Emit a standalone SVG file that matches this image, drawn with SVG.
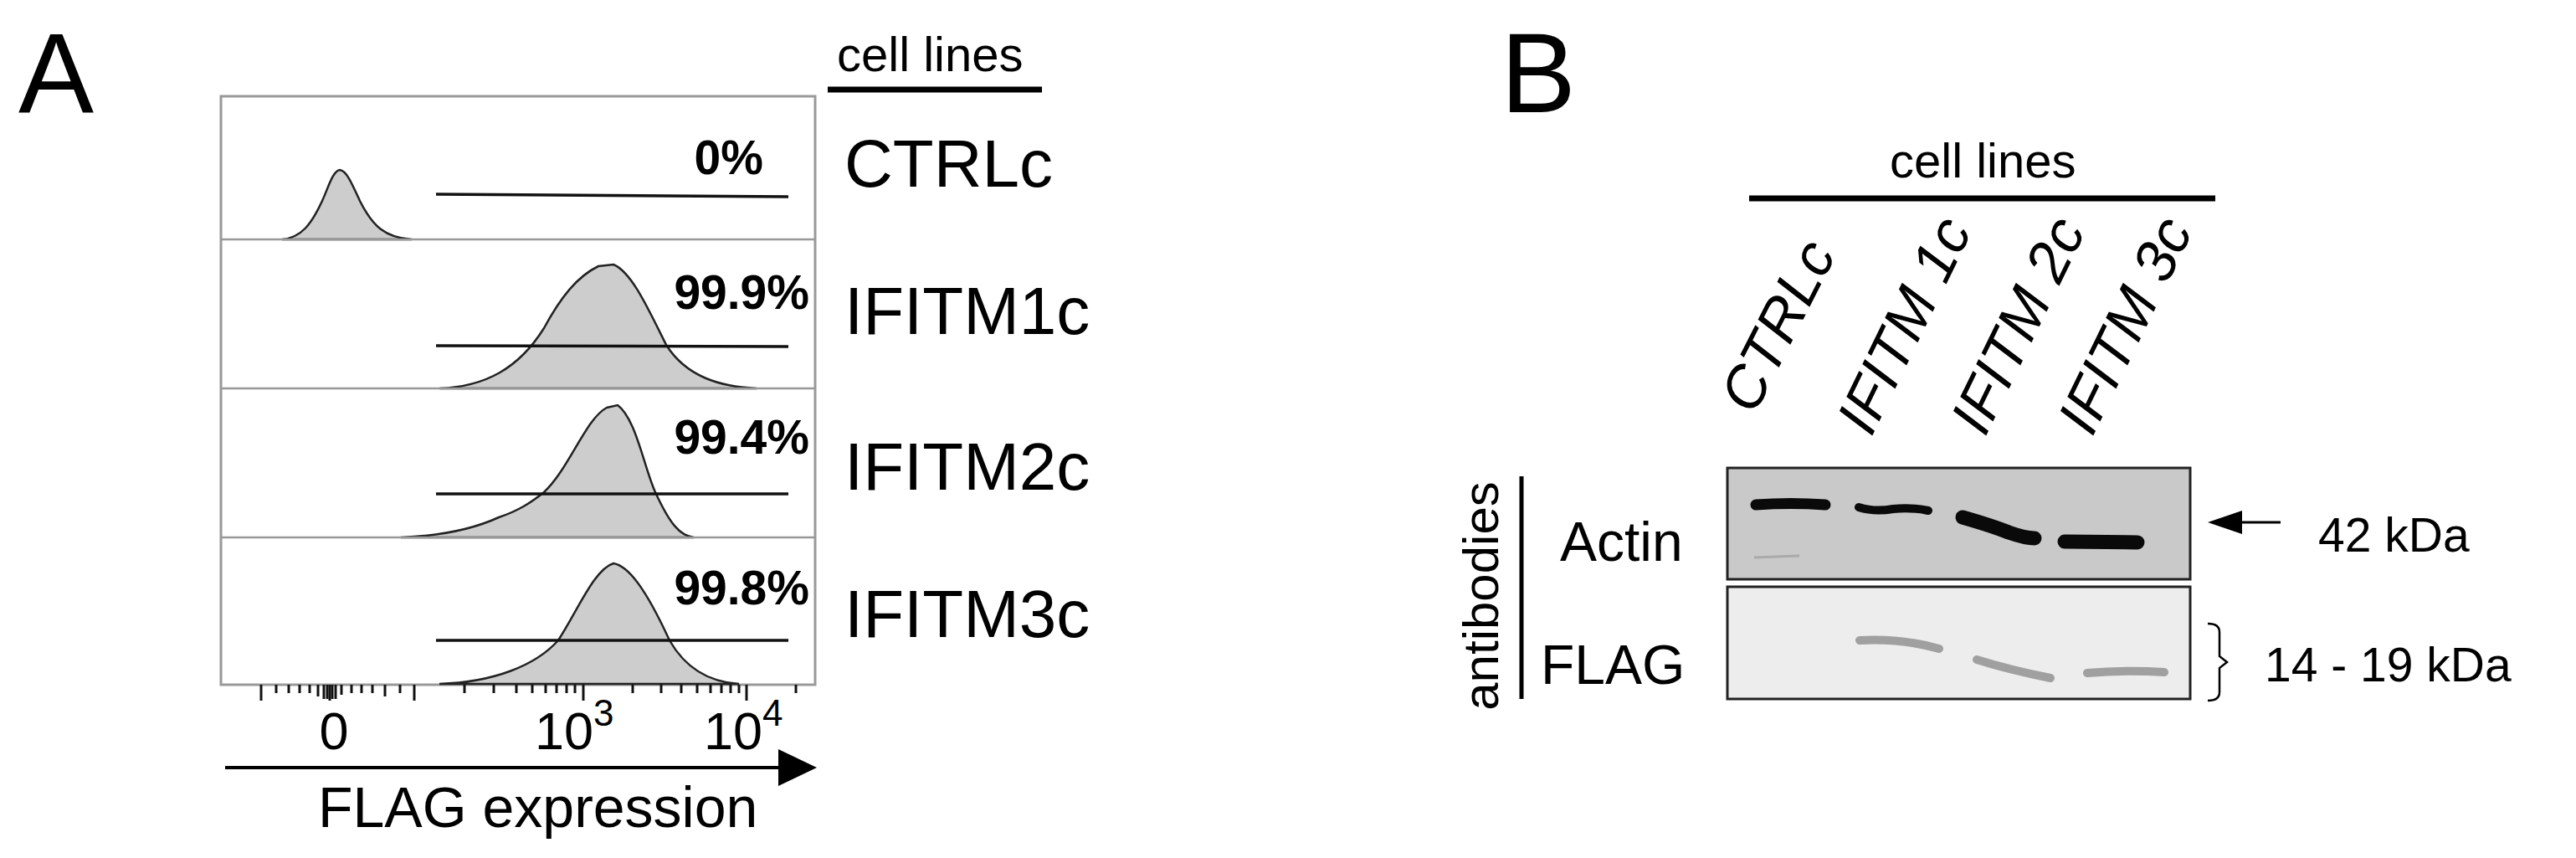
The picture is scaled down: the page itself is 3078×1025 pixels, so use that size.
<svg xmlns="http://www.w3.org/2000/svg" width="3078" height="1025" viewBox="0 0 3078 1025">
<style>
text{font-family:"Liberation Sans",Arial,sans-serif;fill:#000}
.big{font-size:135px}
.lab{font-size:80px}
.pct{font-size:57px;font-weight:bold;text-anchor:end}
.gate{stroke:#111;stroke-width:3.5}
.hist{fill:#cdcdcd;stroke:#222;stroke-width:2.5}
.div{stroke:#999;stroke-width:2.5}
.tk{stroke:#111;stroke-width:3}
.rot{font-size:70px;font-style:italic}
.band{stroke:#0a0a0a;stroke-linecap:round;fill:none}
.fband{stroke:#a0a0a0;stroke-linecap:round;fill:none}
</style>
<rect width="3078" height="1025" fill="#fff"/>
<g id="panelA">
<text class="big" x="22" y="134">A</text>
<g id="cell-lines-A"><text x="1000" y="85" style="font-size:58px">cell lines</text><line x1="989" y1="107" x2="1245" y2="107" stroke="#000" stroke-width="7"/></g>
<g id="hist-box">
<rect x="264" y="115" width="710" height="703" fill="#fff" stroke="#999" stroke-width="3"/>
<path class="hist" d="M337,286 C360,284 372,268 385,240 C393,222 398,204 406,203 C414,204 420,218 430,240 C445,270 460,284 492,286 Z"/>
<path class="hist" d="M525,464 C580,462 620,440 650,392 C670,355 690,330 715,318 L733,316 C755,325 775,370 796,412 C820,450 860,462 904,464 Z"/>
<path class="hist" d="M479,642 C530,640 570,630 596,618 C620,610 635,600 650,588 C680,560 700,500 725,487 L738,484 C760,500 770,560 783,588 C800,625 812,640 829,642 Z"/>
<path class="hist" d="M525,817 C590,815 640,795 667,765 C690,730 710,680 733,673 C750,676 770,700 800,765 C820,800 850,815 883,817 Z"/>
<line class="div" x1="264" y1="286" x2="974" y2="286"/>
<line class="div" x1="264" y1="464" x2="974" y2="464"/>
<line class="div" x1="264" y1="642" x2="974" y2="642"/>
<line class="gate" x1="521" y1="232" x2="942" y2="235"/>
<line class="gate" x1="521" y1="413" x2="942" y2="414"/>
<line class="gate" x1="521" y1="590" x2="942" y2="590"/>
<line class="gate" x1="521" y1="765" x2="942" y2="765"/>
<text class="pct" x="912" y="208">0%</text>
<text class="pct" x="967" y="369">99.9%</text>
<text class="pct" x="967" y="542">99.4%</text>
<text class="pct" x="967" y="722">99.8%</text>
</g>
<g id="row-labels">
<text class="lab" x="1009" y="223">CTRLc</text>
<text class="lab" x="1009" y="399">IFITM1c</text>
<text class="lab" x="1009" y="585">IFITM2c</text>
<text class="lab" x="1009" y="761">IFITM3c</text>
</g>
<g id="axis">
<g class="tk">
<line x1="312" y1="818" x2="312" y2="837"/><line x1="394" y1="818" x2="394" y2="837"/><line x1="495" y1="818" x2="495" y2="837"/><line x1="697" y1="818" x2="697" y2="837"/><line x1="892" y1="818" x2="892" y2="837"/>
<line x1="330" y1="818" x2="330" y2="828"/><line x1="345" y1="818" x2="345" y2="828"/><line x1="358" y1="818" x2="358" y2="828"/><line x1="370" y1="818" x2="370" y2="828"/><line x1="380" y1="818" x2="380" y2="832"/><line x1="387" y1="818" x2="387" y2="835"/><line x1="391" y1="818" x2="391" y2="835"/><line x1="397" y1="818" x2="397" y2="835"/><line x1="401" y1="818" x2="401" y2="835"/><line x1="408" y1="818" x2="408" y2="830"/><line x1="420" y1="818" x2="420" y2="828"/><line x1="432" y1="818" x2="432" y2="828"/><line x1="445" y1="818" x2="445" y2="828"/><line x1="460" y1="818" x2="460" y2="832"/><line x1="478" y1="818" x2="478" y2="828"/>
<line x1="555" y1="818" x2="555" y2="828"/><line x1="590" y1="818" x2="590" y2="828"/><line x1="617" y1="818" x2="617" y2="828"/><line x1="636" y1="818" x2="636" y2="828"/><line x1="652" y1="818" x2="652" y2="828"/><line x1="665" y1="818" x2="665" y2="828"/><line x1="677" y1="818" x2="677" y2="828"/><line x1="687" y1="818" x2="687" y2="828"/>
<line x1="756" y1="818" x2="756" y2="828"/><line x1="790" y1="818" x2="790" y2="828"/><line x1="814" y1="818" x2="814" y2="828"/><line x1="833" y1="818" x2="833" y2="828"/><line x1="849" y1="818" x2="849" y2="828"/><line x1="862" y1="818" x2="862" y2="828"/><line x1="873" y1="818" x2="873" y2="828"/><line x1="883" y1="818" x2="883" y2="828"/><line x1="951" y1="818" x2="951" y2="828"/>
</g>
<text x="399" y="895" style="font-size:63px" text-anchor="middle">0</text>
<text x="639" y="895" style="font-size:63px">10<tspan dy="-28" style="font-size:44px">3</tspan></text>
<text x="841" y="895" style="font-size:63px">10<tspan dy="-28" style="font-size:44px">4</tspan></text>
<line x1="269" y1="917" x2="935" y2="917" stroke="#000" stroke-width="4"/>
<polygon points="930,895 976,917 930,939" fill="#000"/>
<text x="380" y="988" style="font-size:68px">FLAG expression</text>
</g>
</g>
<g id="panelB">
<text class="big" x="1793" y="134">B</text>
<g id="cell-lines-B"><text x="2258" y="212" style="font-size:58px">cell lines</text><line x1="2090" y1="237" x2="2647" y2="237" stroke="#000" stroke-width="7"/></g>
<g id="lane-labels">
<text class="rot" transform="translate(2096,497) rotate(-63)">CTRLc</text>
<text class="rot" transform="translate(2236,523) rotate(-64)">IFITM 1c</text>
<text class="rot" transform="translate(2372,523) rotate(-64)">IFITM 2c</text>
<text class="rot" transform="translate(2500,523) rotate(-64)">IFITM 3c</text>
</g>
<g id="antibodies">
<text transform="translate(1790,712) rotate(-90)" text-anchor="middle" style="font-size:60px">antibodies</text>
<line x1="1818" y1="569" x2="1818" y2="835" stroke="#000" stroke-width="5"/>
<text x="1864" y="670" style="font-size:66px">Actin</text>
<text x="1841" y="817" style="font-size:66px">FLAG</text>
</g>
<g id="actin-blot">
<rect x="2064" y="559" width="553" height="133" fill="#c9c9c9" stroke="#222" stroke-width="3"/>
<path class="band" stroke-width="13" d="M2098,603 Q2140,600 2181,603"/>
<path class="band" stroke-width="10" d="M2221,606 Q2240,612 2262,608 Q2285,606 2304,610"/>
<path class="band" stroke-width="17" d="M2345,618 Q2380,628 2400,636 Q2420,643 2431,643"/>
<path class="band" stroke-width="17" d="M2467,647 L2554,648"/>
<path stroke="#aaa" stroke-width="3" fill="none" d="M2096,666 L2150,664"/>
</g>
<g id="flag-blot">
<rect x="2064" y="701" width="553" height="134" fill="#ededed" stroke="#222" stroke-width="3"/>
<path class="fband" stroke-width="10" d="M2222,765 Q2270,762 2317,775"/>
<path class="fband" stroke-width="10" d="M2362,788 Q2400,800 2450,810"/>
<path class="fband" stroke-width="10" d="M2494,804 Q2540,800 2586,803"/>
</g>
<g id="markers">
<line x1="2670" y1="624" x2="2725" y2="624" stroke="#000" stroke-width="3"/>
<polygon points="2638,624 2679,610 2679,638" fill="#000"/>
<text x="2770" y="659" style="font-size:57px">42 kDa</text>
<path d="M2638,745 Q2652,745 2652,755 L2652,784 L2661,791 L2652,798 L2652,827 Q2652,837 2638,837" fill="none" stroke="#000" stroke-width="2.5"/>
<text x="2706" y="814" style="font-size:57px">14 - 19 kDa</text>
</g>
</g>
</svg>
